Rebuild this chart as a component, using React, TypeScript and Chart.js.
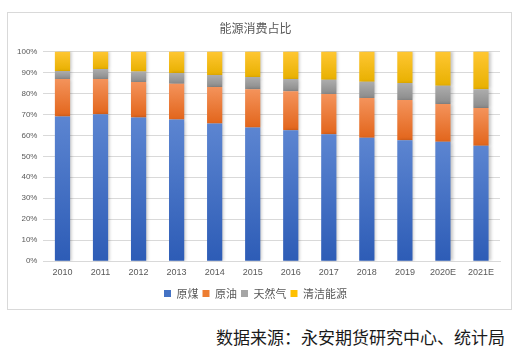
import React, { useEffect, useRef } from "react";
import { Chart, registerables } from "chart.js";

Chart.register(...registerables);

const categories = ["2010", "2011", "2012", "2013", "2014", "2015", "2016", "2017", "2018", "2019", "2020E", "2021E"];
const coal = [69.0, 70.1, 68.5, 67.5, 65.6, 63.7, 62.4, 60.5, 58.8, 57.6, 56.9, 55.0];
const oil = [17.8, 16.7, 16.9, 17.1, 17.4, 18.3, 18.6, 19.2, 19.0, 19.2, 18.0, 18.0];
const gas = [3.9, 4.8, 5.0, 5.1, 5.7, 5.8, 5.8, 6.8, 7.7, 8.1, 8.7, 9.0];
const clean = [9.3, 8.4, 9.6, 10.3, 11.3, 12.2, 13.2, 13.5, 14.5, 15.1, 16.4, 18.0];
const seriesNames = ["原煤", "原油", "天然气", "清洁能源"];
const yTicks = [0, 10, 20, 30, 40, 50, 60, 70, 80, 90, 100];

const seriesData = [coal, oil, gas, clean];
const baseColors = ["#4472c4", "#ed7d31", "#a5a5a5", "#ffc000"];
const gradStops = [
  ["#5c85d1", "#2d5cb6"],
  ["#f4935b", "#e2651b"],
  ["#adadad", "#8b8b8b"],
  ["#ffc733", "#e8b000"],
];

function makeBg(d: number) {
  return (ctx: any) => {
    const chart = ctx.chart;
    const i = ctx.dataIndex;
    if (!chart.chartArea || i === undefined || !chart.scales?.y) return baseColors[d];
    let bottom = 0;
    for (let k = 0; k < d; k++) bottom += seriesData[k][i];
    const top = bottom + seriesData[d][i];
    const y0 = chart.scales.y.getPixelForValue(top);
    const y1 = chart.scales.y.getPixelForValue(bottom);
    if (!isFinite(y0) || !isFinite(y1) || y0 === y1) return baseColors[d];
    const g = chart.ctx.createLinearGradient(0, y0, 0, y1);
    g.addColorStop(0, gradStops[d][0]);
    g.addColorStop(1, gradStops[d][1]);
    return g;
  };
}

const shadowPlugin = {
  id: "barShadow",
  beforeDatasetsDraw(chart: any) {
    const c = chart.ctx;
    c.save();
    c.shadowColor = "rgba(0,0,0,0.22)";
    c.shadowBlur = 3;
    c.shadowOffsetX = 2;
    c.shadowOffsetY = 0;
  },
  afterDatasetsDraw(chart: any) {
    chart.ctx.restore();
  },
};

export default function App() {
  const ref = useRef<HTMLCanvasElement | null>(null);
  useEffect(() => {
    if (!ref.current) return;
    const chart = new Chart(ref.current, {
      type: "bar",
      data: {
        labels: categories,
        datasets: seriesData.map((arr, d) => ({
          label: seriesNames[d],
          data: arr,
          backgroundColor: makeBg(d),
          borderWidth: 0,
          barPercentage: 0.4,
          categoryPercentage: 1,
        })),
      },
      options: {
        animation: false,
        responsive: false,
        maintainAspectRatio: false,
        layout: { padding: { left: 3, right: 11, top: 0, bottom: 0 } },
        plugins: {
          tooltip: { enabled: false },
          title: {
            display: true,
            text: "能源消费占比",
            color: "#595959",
            font: { size: 12, family: "'Noto Sans CJK SC', sans-serif", weight: "normal" },
            padding: { top: 8, bottom: 16 },
          },
          legend: {
            display: true,
            position: "bottom",
            labels: {
              boxWidth: 7,
              boxHeight: 7,
              padding: 4,
              color: "#595959",
              font: { size: 11, family: "'Noto Sans CJK SC', sans-serif" },
              generateLabels: () =>
                seriesNames.map((n, d) => ({
                  text: n,
                  fillStyle: baseColors[d],
                  strokeStyle: baseColors[d],
                  lineWidth: 0,
                  datasetIndex: d,
                  hidden: false,
                  fontColor: "#595959",
                })),
            },
          },
        },
        scales: {
          x: {
            stacked: true,
            grid: { display: false, drawTicks: false },
            border: { display: true, color: "#d9d9d9" },
            ticks: {
              color: "#595959",
              font: { size: 9, family: "'Liberation Sans', Arial, sans-serif" },
              maxRotation: 0,
              padding: 6,
            },
          },
          y: {
            stacked: true,
            min: 0,
            max: 100,
            afterBuildTicks: (axis: any) => {
              axis.ticks = yTicks.map((v) => ({ value: v }));
            },
            grid: { color: "#d9d9d9", drawTicks: false },
            border: { display: false },
            ticks: {
              color: "#595959",
              font: { size: 8, family: "'Liberation Sans', Arial, sans-serif" },
              padding: 6,
              callback: (v: any) => v + "%",
            },
          },
        },
      },
      plugins: [shadowPlugin],
    } as any);
    return () => chart.destroy();
  }, []);

  return (
    <div style={{ position: "absolute", left: 0, top: 0, width: 523, height: 361, background: "#fff" }}>
      <div
        style={{
          position: "absolute",
          left: 7,
          top: 12,
          width: 503,
          height: 296,
          border: "1px solid #d9d9d9",
        }}
      >
        <canvas ref={ref} width={503} height={296} style={{ display: "block", width: 503, height: 296 }} />
      </div>
      <div
        style={{
          position: "absolute",
          right: 18,
          top: 326,
          fontSize: 17,
          color: "#1a1a1a",
          fontFamily: "'Noto Sans CJK SC', sans-serif",
          whiteSpace: "nowrap",
          lineHeight: "22px",
        }}
      >
        数据来源：永安期货研究中心、统计局
      </div>
    </div>
  );
}
